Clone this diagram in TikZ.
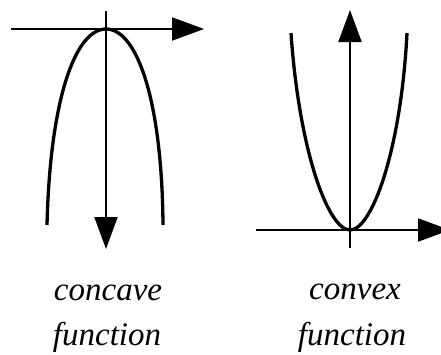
\documentclass[tikz,border=0pt]{standalone}
\usepackage{fontspec}
\setmainfont{Liberation Serif}
\usetikzlibrary{arrows.meta}
\tikzset{
  axis/.style={line width=2pt,-{Triangle[length=32pt,width=23pt]}},
  curve/.style={line width=3.3pt},
  lbl/.style={anchor=base,inner sep=0pt,font=\fontsize{33}{40}\selectfont\itshape}
}
\begin{document}
\begin{tikzpicture}[x=1pt,y=-1pt]
\useasboundingbox (0,0) rectangle (441,354);
% concave
\coordinate (h1s) at (11,29);
\coordinate (h1e) at (204,29);
\coordinate (v1s) at (106,11);
\coordinate (v1e) at (106,249);
\draw[axis] (h1s) -- (h1e);
\draw[axis] (v1s) -- (v1e);
\draw[curve] (47,225) .. controls (50,100) and (75,29) .. (106,29)
  .. controls (137,29) and (162,100) .. (163,225);
% convex
\coordinate (v2s) at (350,248);
\coordinate (v2e) at (350,10);
\coordinate (h2s) at (256,230);
\coordinate (h2e) at (450,230);
\draw[axis] (h2s) -- (h2e);
\draw[axis] (v2s) -- (v2e);
\draw[curve] (291,33) .. controls (299,150) and (328,230) .. (350,230)
  .. controls (372,230) and (401,150) .. (407,33);
% labels
\node[lbl] (c1) at (108,300) {concave};
\node[lbl] (f1) at (107,345) {function};
\node[lbl] (c2) at (355,299) {convex};
\node[lbl] (f2) at (352,345) {function};
\end{tikzpicture}
\end{document}
